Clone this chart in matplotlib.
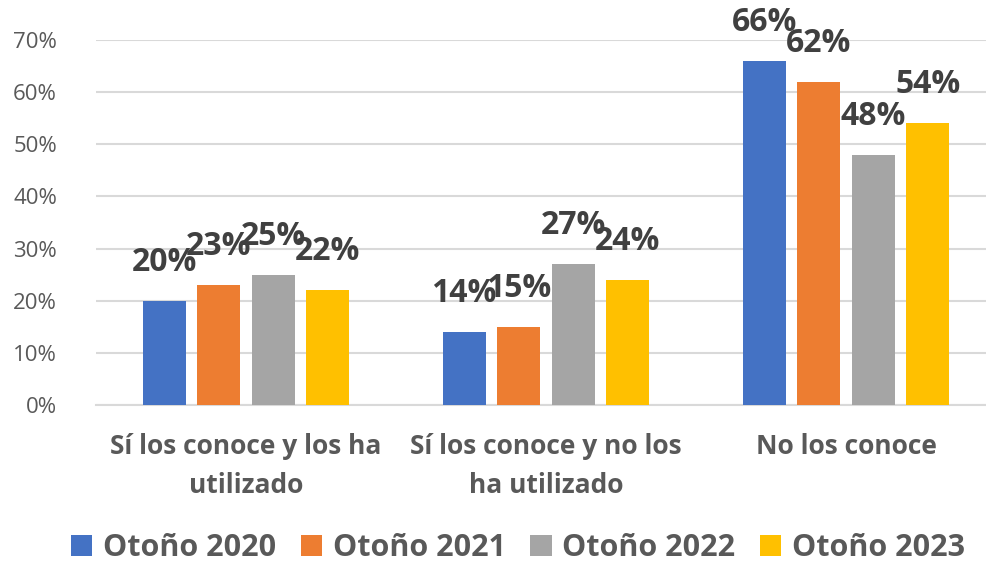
import matplotlib
matplotlib.use("Agg")
import matplotlib.pyplot as plt
import numpy as np

categorias = ["Sí los conoce y los ha\nutilizado", "Sí los conoce y no los\nha utilizado", "No los conoce"]
series = ["Otoño 2020", "Otoño 2021", "Otoño 2022", "Otoño 2023"]
otono_2020 = [20, 14, 66]
otono_2021 = [23, 15, 62]
otono_2022 = [25, 27, 48]
otono_2023 = [22, 24, 54]
colores = ["#4472C4", "#ED7D31", "#A5A5A5", "#FFC000"]

plt.rcParams["font.family"] = ["Open Sans", "DejaVu Sans"]

fig = plt.figure(figsize=(9.87, 5.62), dpi=100)
ax = fig.add_axes([96 / 987, 1 - 405 / 562, 900 / 987, 365 / 562])

x = np.arange(len(categorias))
ancho = 0.143
paso = 0.182
valores = [otono_2020, otono_2021, otono_2022, otono_2023]
for i, (nombre, vals, c) in enumerate(zip(series, valores, colores)):
    pos = x + (i - 1.5) * paso
    barras = ax.bar(pos, vals, ancho, color=c, label=nombre, zorder=3)
    for b, v in zip(barras, vals):
        ax.annotate(f"{v}%", (b.get_x() + b.get_width() / 2, v),
                    xytext=(0, 22), textcoords="offset pixels",
                    ha="center", va="bottom", fontsize=23, fontweight="bold",
                    color="#404040", zorder=4)

ax.set_xlim(-0.5, 2.5)
ax.set_ylim(0, 70)
ax.set_yticks(range(0, 71, 10))
ax.set_yticklabels([f"{t}%" for t in range(0, 71, 10)], fontsize=16, color="#595959")
ax.yaxis.grid(True, color="#D9D9D9", linewidth=1.5, zorder=0)
ax.set_xticks(x)
ax.set_xticklabels(categorias, fontsize=19, fontweight="bold", color="#595959",
                   linespacing=1.6)
ax.tick_params(axis="both", length=0)
ax.tick_params(axis="x", pad=20)
ax.tick_params(axis="y", pad=28)
for s in ["top", "right", "left"]:
    ax.spines[s].set_visible(False)
ax.spines["bottom"].set_color("#D9D9D9")
ax.spines["bottom"].set_linewidth(1.5)

fig.legend(loc="center", bbox_to_anchor=(518 / 987, 14 / 562), ncol=4, frameon=False,
           prop={"size": 22, "weight": "bold"}, labelcolor="#595959",
           handlelength=0.7, handleheight=0.7, handletextpad=0.35, columnspacing=0.8)

fig.savefig("out.png", dpi=100)
